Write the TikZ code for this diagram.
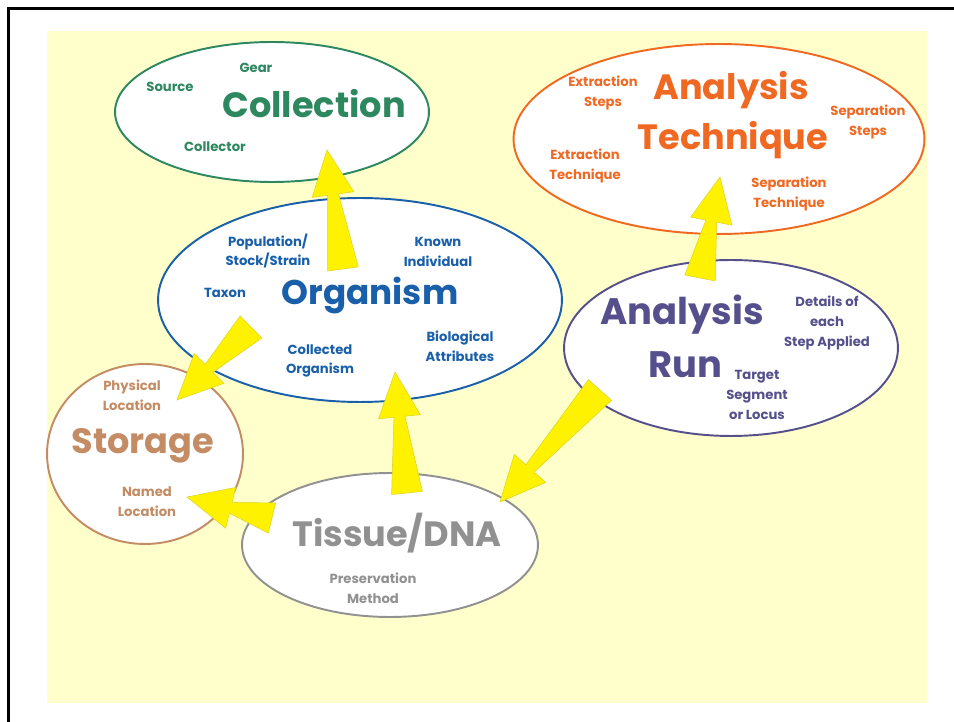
\documentclass[tikz,border=0pt]{standalone}
\usepackage{fontspec}
\setmainfont{Poppins}
\usetikzlibrary{shapes.geometric,calc}

\definecolor{paper}{RGB}{255,255,204}
\definecolor{colgreen}{RGB}{45,135,95}
\definecolor{techorange}{RGB}{240,105,35}
\definecolor{orgblue}{RGB}{25,95,170}
\definecolor{storetan}{RGB}{195,140,100}
\definecolor{tissuegray}{RGB}{145,145,145}
\definecolor{runpurple}{RGB}{85,80,140}

% tapered block arrow: #1 = base, #2 = tip
\newcommand{\fatarrow}[2]{%
  \coordinate (h) at ($(#2)!0.9cm!(#1)$);
  \filldraw[bigarrow] ($(#1)!0.31cm!90:(#2)$) -- ($(h)!0.11cm!-90:(#1)$)
    -- ($(h)!0.42cm!-90:(#1)$) -- (#2) -- ($(h)!0.42cm!90:(#1)$)
    -- ($(h)!0.11cm!90:(#1)$) -- ($(#1)!0.31cm!-90:(#2)$) -- cycle;}

\begin{document}
\begin{tikzpicture}[x=0.02cm,y=-0.02cm,
    blob/.style={ellipse, draw, fill=white, line width=1.1pt, inner sep=0pt},
    title/.style={font=\fontsize{20}{22}\selectfont\bfseries, inner sep=0pt, anchor=base},
    tag/.style={font=\fontsize{7.5}{11.3}\selectfont\bfseries, align=center, inner sep=0pt},
    bigarrow/.style={fill=yellow, draw=yellow!85!black, line width=0.3pt}]
    \useasboundingbox (0,0) rectangle (954,722);
    \fill[paper] (47,31) rectangle (927,703);
    \draw[line width=1.7pt] (8.5,722) -- (8.5,8.5) -- (954,8.5);

    \node[blob, draw=colgreen, minimum width=6.28cm, minimum height=2.8cm] (coll) at (272,112) {};
    \node[blob, draw=techorange, minimum width=8.22cm, minimum height=3.8cm] (tech) at (719,139) {};
    \node[blob, draw=storetan, minimum width=3.92cm, minimum height=3.6cm] (store) at (145,454) {};
    \node[blob, draw=orgblue, minimum width=8.08cm, minimum height=4.08cm] (org) at (360,300) {};
    \node[blob, draw=tissuegray, minimum width=5.92cm, minimum height=2.88cm] (tissue) at (390,545) {};
    \node[blob, draw=runpurple, minimum width=6.68cm, minimum height=3.52cm] (run) at (731,348) {};

    % Collection
    \node[title, colgreen] (colltitle) at (314,118) {Collection};
    \node[tag, colgreen] (gear) at (256,68) {Gear};
    \node[tag, colgreen] (source) at (170,87) {Source};
    \node[tag, colgreen] (collector) at (215,147) {Collector};

    % Analysis Technique
    \node[title, techorange] (techtitle1) at (731,100) {Analysis};
    \node[title, techorange] (techtitle2) at (733,150) {Technique};
    \node[tag, techorange] (exsteps) at (603,93) {Extraction\\Steps};
    \node[tag, techorange] (sepsteps) at (868,122) {Separation\\Steps};
    \node[tag, techorange] (extech) at (585,166) {Extraction\\Technique};
    \node[tag, techorange] (septech) at (789,194) {Separation\\Technique};

    % Organism
    \node[title, orgblue, font=\fontsize{19.5}{21}\selectfont\bfseries] (orgtitle) at (370,305) {Organism};
    \node[tag, orgblue] (pop) at (268,251) {Population/\\Stock/Strain};
    \node[tag, orgblue] (known) at (438,252) {Known\\Individual};
    \node[tag, orgblue] (taxon) at (225,293) {Taxon};
    \node[tag, orgblue] (collorg) at (320,361) {Collected\\Organism};
    \node[tag, orgblue] (bio) at (460,346) {Biological\\Attributes};

    % Storage
    \node[title, storetan, font=\fontsize{20}{22}\selectfont\bfseries] (storetitle) at (143,454) {Storage};
    \node[tag, storetan] (phys) at (132,395) {Physical\\Location};
    \node[tag, storetan] (named) at (147,502) {Named\\Location};

    % Tissue/DNA
    \node[title, tissuegray] (tissuetitle) at (397,547) {Tissue/DNA};
    \node[tag, tissuegray] (pres) at (373,588) {Preservation\\Method};

    % Analysis Run
    \node[title, runpurple, font=\fontsize{21}{23}\selectfont\bfseries] (runtitle1) at (682,325) {Analysis};
    \node[title, runpurple, font=\fontsize{21}{23}\selectfont\bfseries] (runtitle2) at (685,378) {Run};
    \node[tag, runpurple] (details) at (827,323) {Details of\\each\\Step Applied};
    \node[tag, runpurple] (target) at (757,395) {Target\\Segment\\or Locus};

    % arrow ends
    \coordinate (a1s) at (343,269); \coordinate (a1t) at (327,150);
    \coordinate (a2s) at (251,327); \coordinate (a2t) at (177,400);
    \coordinate (a3s) at (407,493); \coordinate (a3t) at (395,372);
    \coordinate (a4s) at (272,518); \coordinate (a4t) at (187,497);
    \coordinate (a5s) at (600,390); \coordinate (a5t) at (500,502);
    \coordinate (a6s) at (700,278); \coordinate (a6t) at (720,177);

    \fatarrow{a1s}{a1t}
    \fatarrow{a2s}{a2t}
    \fatarrow{a3s}{a3t}
    \fatarrow{a4s}{a4t}
    \fatarrow{a5s}{a5t}
    \fatarrow{a6s}{a6t}
\end{tikzpicture}
\end{document}
